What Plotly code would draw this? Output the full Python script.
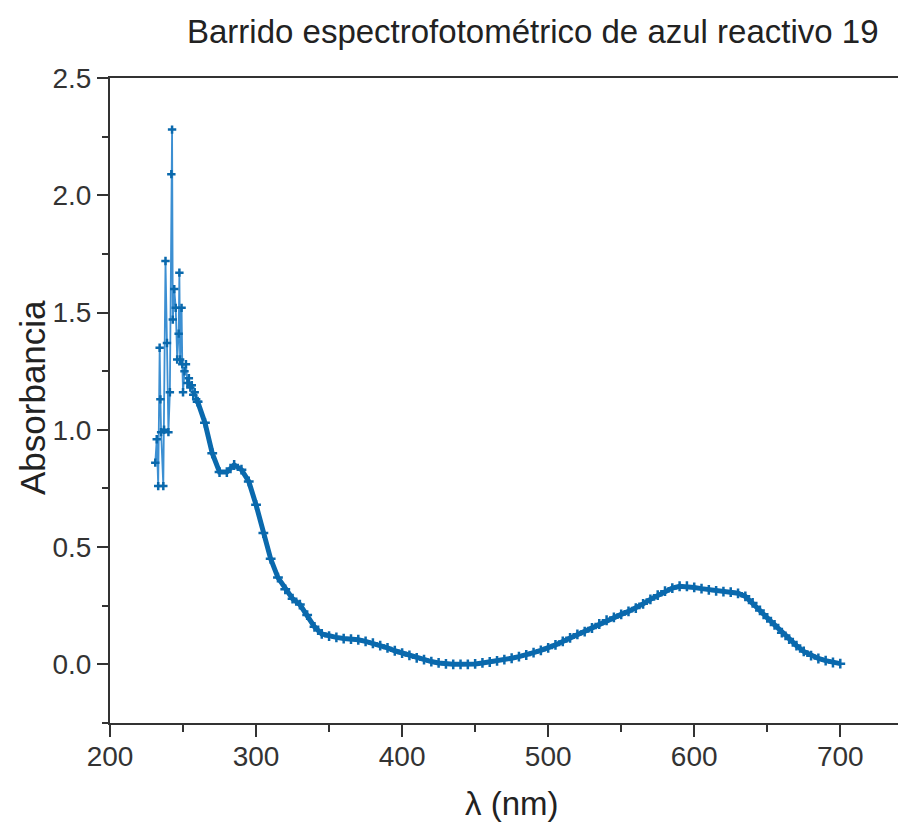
import plotly.graph_objects as go

# Noisy low-wavelength region (nm, absorbance)
wl_noisy = [231, 232, 233, 234, 234.5, 235, 236.5, 237, 238, 239, 240, 241, 242, 242.5,
            243, 244, 245, 246, 247, 247.5, 248, 249, 249.5, 250, 251, 252, 253, 254,
            255, 256, 257, 258, 259, 260]
abs_noisy = [0.86, 0.96, 0.76, 1.35, 1.13, 0.99, 0.76, 1.00, 1.72, 1.37, 0.99, 1.16, 2.09, 2.28,
             1.47, 1.60, 1.52, 1.30, 1.41, 1.67, 1.30, 1.52, 1.28, 1.16, 1.25, 1.28, 1.20, 1.22,
             1.18, 1.19, 1.15, 1.16, 1.13, 1.12]

# Smooth region
wl_smooth = [260, 265, 270, 275, 280, 285, 290, 295, 300, 305, 310, 315, 320, 325, 330, 335,
             340, 345, 350, 355, 360, 365, 370, 375, 380, 385, 390, 395, 400, 405, 410, 415,
             420, 425, 430, 435, 440, 445, 450, 455, 460, 465, 470, 475, 480, 485, 490, 495,
             500, 505, 510, 515, 520, 525, 530, 535, 540, 545, 550, 555, 560, 565, 570, 575,
             580, 585, 590, 595, 600, 605, 610, 615, 620, 625, 630, 635, 640, 645, 650, 655,
             660, 665, 670, 675, 680, 685, 690, 695, 700]
abs_smooth = [1.12, 1.03, 0.90, 0.82, 0.82, 0.85, 0.83, 0.78, 0.68, 0.56, 0.45, 0.37, 0.32, 0.28,
              0.255, 0.21, 0.16, 0.13, 0.12, 0.115, 0.11, 0.108, 0.105, 0.098, 0.09, 0.08, 0.07,
              0.058, 0.048, 0.038, 0.028, 0.02, 0.012, 0.006, 0.002, 0.0, 0.0, 0.0, 0.002, 0.006,
              0.01, 0.015, 0.02, 0.026, 0.033, 0.04, 0.05, 0.06, 0.07, 0.083, 0.098, 0.113, 0.128,
              0.14, 0.155, 0.172, 0.188, 0.2, 0.213, 0.226, 0.24, 0.258, 0.277, 0.295, 0.312,
              0.325, 0.333, 0.333, 0.328, 0.323, 0.318, 0.313, 0.31, 0.308, 0.303, 0.29, 0.262,
              0.23, 0.198, 0.168, 0.135, 0.108, 0.08, 0.055, 0.037, 0.025, 0.016, 0.008, 0.003]

x_ticks = [200, 300, 400, 500, 600, 700]
y_ticks = [0.0, 0.5, 1.0, 1.5, 2.0, 2.5]
y_tick_text = ["0.0", "0.5", "1.0", "1.5", "2.0", "2.5"]

dark = "#0a69ad"
light = "#3c8fd2"
axis_col = "#333333"
font = "Liberation Sans, Arial, sans-serif"

fig = go.Figure()
fig.add_trace(go.Scatter(x=wl_noisy, y=abs_noisy, mode="lines+markers",
                         line=dict(color=light, width=1.8),
                         marker=dict(color=dark, size=6, symbol="cross-thin",
                                     line=dict(color=dark, width=2.5)),
                         showlegend=False))
fig.add_trace(go.Scatter(x=wl_smooth, y=abs_smooth, mode="lines+markers",
                         line=dict(color=dark, width=5),
                         marker=dict(color=dark, size=7, symbol="cross-thin",
                                     line=dict(color=dark, width=2.5)),
                         showlegend=False))

# page has an 8 px body margin; figure coordinates = page coordinates - 8
OFF = 8
W, H = 906 - OFF, 825 - OFF
L, T = 110 - OFF, 78 - OFF
R = 0
B = H - (723 - OFF)
pw = W - L - R
ph = H - T - B

def px_x(p):
    return (p - OFF - L) / pw

def px_y(p):
    return (H - B - (p - OFF)) / ph

xaxis = dict(range=[200, 745], tickvals=x_ticks, ticks="outside", ticklen=12, tickwidth=2,
             tickcolor=axis_col, showline=True, linecolor=axis_col, linewidth=2, mirror=True,
             showgrid=False, zeroline=False, tickfont=dict(size=28, color="#333333"),
             minor=dict(dtick=50, ticks="outside", ticklen=7, tickwidth=2, tickcolor=axis_col,
                        showgrid=False))
yaxis = dict(range=[-0.25, 2.5], tickvals=y_ticks, ticktext=y_tick_text, ticks="outside",
             ticklen=11, tickwidth=2, tickcolor=axis_col, showline=True, linecolor=axis_col,
             linewidth=2, showgrid=False, zeroline=False,
             tickfont=dict(size=28, color="#333333"),
             minor=dict(dtick=0.25, ticks="outside", ticklen=6, tickwidth=2,
                        tickcolor=axis_col, showgrid=False))

fig.update_layout(
    width=W, height=H,
    margin=dict(l=L, r=R, t=T, b=B, autoexpand=False),
    paper_bgcolor="white", plot_bgcolor="white",
    font=dict(family=font, color="#222222"),
    xaxis=xaxis, yaxis=yaxis,
    annotations=[
        dict(text="Barrido espectrofotométrico de azul reactivo 19", xref="paper", yref="paper",
             x=px_x(533), y=px_y(32), xanchor="center", yanchor="middle",
             showarrow=False, font=dict(size=33, color="#222222", family=font)),
        dict(text="λ (nm)", xref="paper", yref="paper",
             x=px_x(512), y=px_y(803), xanchor="center", yanchor="middle",
             showarrow=False, font=dict(size=33, color="#222222", family=font)),
        dict(text="Absorbancia", xref="paper", yref="paper", textangle=-90,
             x=px_x(32), y=px_y(398), xanchor="center", yanchor="middle",
             showarrow=False, font=dict(size=35, color="#222222", family=font)),
    ],
)

try:
    fig.update_xaxes(ticklabelstandoff=-5)
except Exception:
    pass

fig.write_html("out.html")
